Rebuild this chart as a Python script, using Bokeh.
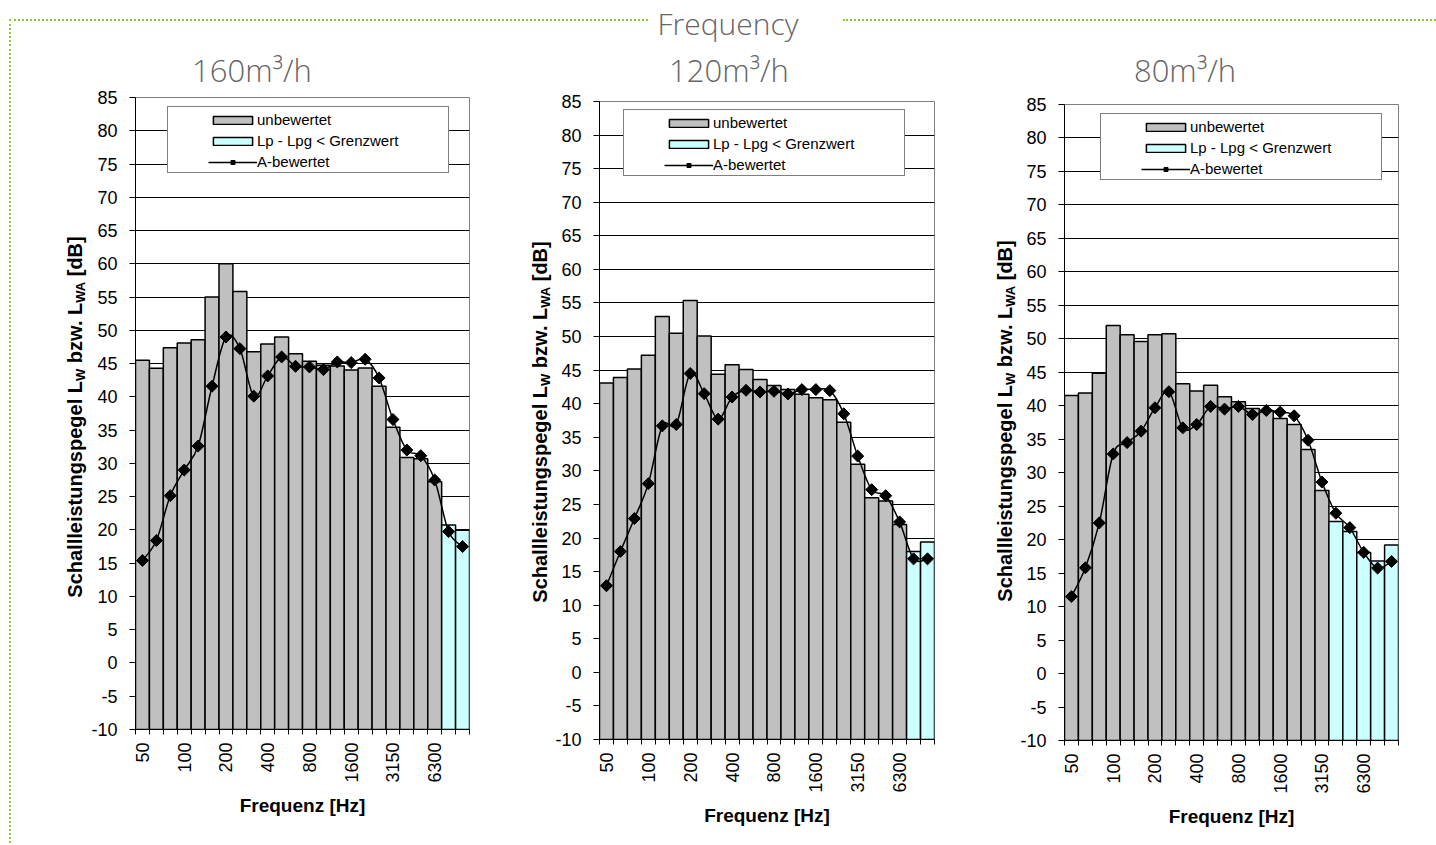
import math
from bokeh.plotting import figure
from bokeh.models import ColumnDataSource, FixedTicker, Legend, LegendItem, Div, Range1d
from bokeh.layouts import row, column
from bokeh.embed import file_html
from bokeh.resources import INLINE

# ---------------- data ----------------
bands = ["50", "63", "80", "100", "125", "160", "200", "250", "315", "400", "500", "630",
         "800", "1000", "1250", "1600", "2000", "2500", "3150", "4000", "5000", "6300", "8000", "10000"]
labelled_bands = ["50", "100", "200", "400", "800", "1600", "3150", "6300"]
y_ticks = list(range(-10, 90, 5))

flow_titles = ["160m³/h", "120m³/h", "80m³/h"]

unbewertet_160 = [45.5, 44.3, 47.4, 48.1, 48.6, 55.0, 60.0, 55.85, 46.8, 47.95, 49.0, 46.5,
                  45.35, 44.75, 44.65, 44.05, 44.35, 41.6, 35.45, 30.9, 30.7, 27.25, 20.75, 19.95]
a_bewertet_160 = [15.4, 18.4, 25.15, 29.0, 32.6, 41.6, 49.0, 47.25, 40.1, 43.15, 46.0, 44.6,
                  44.5, 44.1, 45.25, 45.15, 45.65, 42.85, 36.6, 32.0, 31.15, 27.5, 19.75, 17.5]
limited_160 = ["8000", "10000"]

unbewertet_120 = [43.1, 43.9, 45.15, 47.2, 53.0, 50.5, 55.35, 50.1, 44.4, 45.8, 45.1, 43.6,
                  42.7, 42.1, 41.4, 40.9, 40.6, 37.25, 31.0, 26.0, 25.5, 22.0, 18.0, 19.4]
a_bewertet_120 = [12.9, 18.0, 22.9, 28.1, 36.7, 36.9, 44.5, 41.5, 37.7, 41.0, 42.0, 41.75,
                  41.85, 41.45, 42.1, 42.1, 41.95, 38.5, 32.2, 27.2, 26.3, 22.4, 16.9, 16.9]
limited_120 = ["8000", "10000"]

unbewertet_80 = [41.55, 41.9, 44.85, 52.0, 50.6, 49.6, 50.6, 50.75, 43.3, 42.2, 43.05, 41.35,
                 40.6, 39.6, 39.3, 38.1, 37.2, 33.45, 27.35, 22.7, 21.2, 18.1, 16.8, 19.2]
a_bewertet_80 = [11.5, 15.8, 22.5, 32.8, 34.5, 36.2, 39.7, 42.1, 36.7, 37.2, 39.9, 39.5,
                 39.9, 38.7, 39.3, 39.05, 38.5, 34.85, 28.6, 23.95, 21.8, 18.1, 15.75, 16.75]
limited_80 = ["4000", "5000", "6300", "8000", "10000"]

# ---------------- style ----------------
Y_MIN, Y_MAX = -10, 85
FIG_H = 755
TITLE_H = 44
HEADER_H = 44
FONT = "Liberation Sans"
GREEN = "#8dc63f"
TITLE_STYLE = ("font-family:'Open Sans';font-weight:300;font-stretch:100%;"
               "color:#666666;white-space:nowrap;")

# group width, y-label column width, figure borders, legend placement, title centre,
# y-label centre inside its column
layouts = [
    dict(gw=478, lw=76, bl=47, br=21, bt=9, bb=114, leg_l=32, leg_t=11, title_cx=240, lab_cx=63, lab_cy=329),
    dict(gw=470, lw=62, bl=47, br=26, bt=13, bb=104, leg_l=24, leg_t=10, title_cx=239, lab_cx=50, lab_cy=334),
    dict(gw=468, lw=57, bl=47, br=30, bt=16, bb=103, leg_l=36, leg_t=11, title_cx=225, lab_cx=45, lab_cy=333),
]


def smooth_segments(xs, ys):
    n = len(xs)
    seg = dict(x0=[], y0=[], x1=[], y1=[], cx0=[], cy0=[], cx1=[], cy1=[])
    for i in range(n - 1):
        i0 = max(i - 1, 0)
        i3 = min(i + 2, n - 1)
        seg["x0"].append(xs[i]); seg["y0"].append(ys[i])
        seg["x1"].append(xs[i + 1]); seg["y1"].append(ys[i + 1])
        seg["cx0"].append(xs[i] + (xs[i + 1] - xs[i0]) / 6.0)
        seg["cy0"].append(ys[i] + (ys[i + 1] - ys[i0]) / 6.0)
        seg["cx1"].append(xs[i + 1] - (xs[i3] - xs[i]) / 6.0)
        seg["cy1"].append(ys[i + 1] - (ys[i3] - ys[i]) / 6.0)
    return seg


def make_figure(unbewertet, a_bewertet, limited, lay):
    fig_w = lay["gw"] - lay["lw"]
    p = figure(width=fig_w, height=FIG_H, output_backend="svg", toolbar_location=None, title=None,
               x_range=Range1d(-0.5, len(bands) - 0.5), y_range=Range1d(Y_MIN, Y_MAX),
               min_border_left=lay["bl"], min_border_right=lay["br"],
               min_border_top=lay["bt"], min_border_bottom=lay["bb"])
    frame_h = FIG_H - lay["bt"] - lay["bb"]

    p.background_fill_color = "white"
    p.border_fill_color = "white"
    p.outline_line_color = "#808080"
    p.outline_line_width = 1

    xs = list(range(len(bands)))
    is_lim = [b in limited for b in bands]
    src_gray = ColumnDataSource(dict(x=[x for x, l in zip(xs, is_lim) if not l],
                                     top=[v for v, l in zip(unbewertet, is_lim) if not l]))
    src_cyan = ColumnDataSource(dict(x=[x for x, l in zip(xs, is_lim) if l],
                                     top=[v for v, l in zip(unbewertet, is_lim) if l]))
    gray_r = p.vbar(x="x", top="top", bottom=Y_MIN, width=1, source=src_gray,
                    fill_color="#C0C0C0", line_color="black", line_width=1.5)
    cyan_r = p.vbar(x="x", top="top", bottom=Y_MIN, width=1, source=src_cyan,
                    fill_color="#CCFFFF", line_color="black", line_width=1.5)

    curve_r = p.bezier(x0="x0", y0="y0", x1="x1", y1="y1", cx0="cx0", cy0="cy0", cx1="cx1", cy1="cy1",
                       source=ColumnDataSource(smooth_segments(xs, a_bewertet)),
                       line_color="black", line_width=1.5)
    marker_r = p.scatter(x=xs, y=a_bewertet, marker="square", angle=math.pi / 4, size=8.5,
                         fill_color="black", line_color="black")

    # x axis
    xa = p.xaxis[0]
    xa.ticker = FixedTicker(ticks=[bands.index(b) for b in labelled_bands],
                            minor_ticks=[i - 0.5 for i in range(len(bands) + 1)])
    xa.major_label_overrides = {bands.index(b): b for b in labelled_bands}
    xa.major_label_orientation = math.pi / 2
    xa.major_tick_line_color = None
    xa.major_tick_out = 5
    xa.major_tick_in = 0
    xa.minor_tick_line_color = "black"
    xa.minor_tick_out = 5
    xa.minor_tick_in = 0
    xa.major_label_standoff = 8
    xa.major_label_text_font = FONT
    xa.major_label_text_font_size = "18px"
    xa.major_label_text_color = "black"
    xa.axis_line_color = "black"
    xa.axis_label = "Frequenz [Hz]"
    xa.axis_label_text_font = FONT
    xa.axis_label_text_font_style = "bold"
    xa.axis_label_text_font_size = "19px"
    xa.axis_label_text_color = "black"
    xa.axis_label_standoff = 9

    # y axis
    ya = p.yaxis[0]
    ya.ticker = FixedTicker(ticks=y_ticks)
    ya.major_label_overrides = {v: str(v) for v in y_ticks}
    ya.major_tick_out = 6
    ya.major_tick_in = 0
    ya.major_tick_line_color = "black"
    ya.minor_tick_line_color = None
    ya.major_label_standoff = 12
    ya.major_label_text_font = FONT
    ya.major_label_text_font_size = "18px"
    ya.major_label_text_color = "black"
    ya.axis_line_color = "black"

    p.xgrid.visible = False
    p.ygrid.ticker = FixedTicker(ticks=y_ticks)
    p.ygrid.grid_line_color = "black"
    p.ygrid.grid_line_width = 1

    # legend: white framed box + items placed inside it
    box_r = p.scatter(x=[], y=[], size=0, fill_alpha=0, line_alpha=0)
    box = Legend(items=[LegendItem(label=" ", renderers=[box_r])],
                 location=(lay["leg_l"], frame_h - lay["leg_t"] - 65),
                 padding=0, spacing=0, glyph_width=1, glyph_height=65, label_height=65,
                 label_width=279, label_standoff=0, border_line_color="black", border_line_width=1,
                 background_fill_color="white", background_fill_alpha=1.0,
                 label_text_font_size="1px")
    p.add_layout(box)
    leg = Legend(items=[LegendItem(label="unbewertet", renderers=[gray_r]),
                        LegendItem(label="Lp - Lpg < Grenzwert", renderers=[cyan_r]),
                        LegendItem(label="A-bewertet", renderers=[curve_r, marker_r])],
                 location=(lay["leg_l"] + 41, frame_h - lay["leg_t"] - 1 - 63),
                 padding=0, spacing=0, glyph_width=49, glyph_height=10, label_height=21,
                 label_standoff=0, border_line_color=None, background_fill_alpha=0,
                 label_text_font=FONT, label_text_font_size="15px", label_text_color="black")
    p.add_layout(leg)
    return p


def make_group(title, unbewertet, a_bewertet, limited, lay):
    title_div = Div(text=(f'<div style="position:relative;width:{lay["gw"]}px;height:{TITLE_H}px;">'
                          f'<div style="position:absolute;left:{lay["title_cx"] - 150}px;top:11px;width:300px;'
                          f'text-align:center;font-size:31px;line-height:31px;{TITLE_STYLE}">{title}</div>'
                          '</div>'),
                    width=lay["gw"], height=TITLE_H, margin=0)
    ylab = ('Schallleistungspegel L<sub style="font-size:13px;vertical-align:-3px;line-height:0;">W</sub>'
            ' bzw. L<sub style="font-size:13px;vertical-align:-3px;line-height:0;">WA</sub> [dB]')
    ylab_div = Div(text=(f'<div style="position:relative;width:{lay["lw"]}px;height:{FIG_H}px;">'
                         f'<div style="position:absolute;left:{lay["lab_cx"]}px;top:{lay["lab_cy"]}px;'
                         'transform:translate(-50%,-50%) rotate(-90deg);white-space:nowrap;'
                         f"font-family:'{FONT}';font-weight:bold;font-size:20px;line-height:20px;"
                         f'color:black;">{ylab}</div></div>'),
                   width=lay["lw"], height=FIG_H, margin=0)
    p = make_figure(unbewertet, a_bewertet, limited, lay)
    return column(title_div, row(ylab_div, p))


groups = [
    make_group(flow_titles[0], unbewertet_160, a_bewertet_160, limited_160, layouts[0]),
    make_group(flow_titles[1], unbewertet_120, a_bewertet_120, limited_120, layouts[1]),
    make_group(flow_titles[2], unbewertet_80, a_bewertet_80, limited_80, layouts[2]),
]

header_html = (
    f'<div style="position:relative;width:1436px;height:{HEADER_H}px;">'
    f'<div style="position:absolute;left:9px;top:19px;width:639px;height:23px;'
    f'border-top:2px dotted {GREEN};border-left:2px dotted {GREEN};"></div>'
    f'<div style="position:absolute;left:843px;top:19px;width:593px;height:0;'
    f'border-top:2px dotted {GREEN};"></div>'
    f'<div style="position:absolute;left:618px;top:9px;width:220px;text-align:center;'
    f'font-size:30px;line-height:30px;{TITLE_STYLE}">Frequency</div>'
    '</div>'
)
header = Div(text=header_html, width=1436, height=HEADER_H, margin=0)
spacer = Div(text=f'<div style="margin-left:9px;width:0;height:{TITLE_H + FIG_H}px;'
                  f'border-left:2px dotted {GREEN};"></div>',
             width=12, height=TITLE_H + FIG_H, margin=0)

layout = column(header, row(spacer, *groups))

open("out.html", "w").write(file_html(layout, INLINE))
